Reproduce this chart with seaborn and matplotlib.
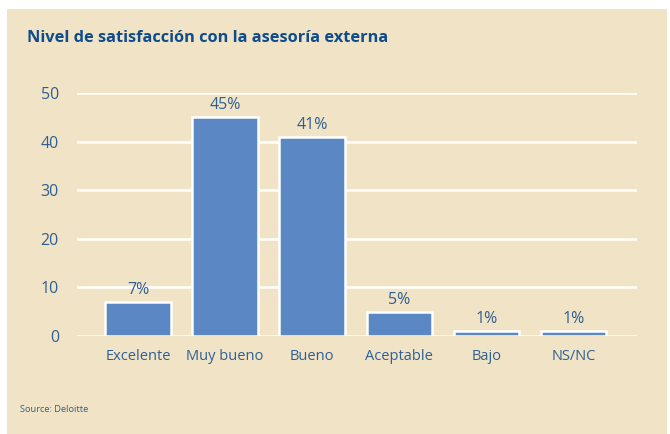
import matplotlib
matplotlib.use("Agg")
import matplotlib.pyplot as plt
from matplotlib.patches import Rectangle
import pandas as pd
import seaborn as sns

categories = ["Excelente", "Muy bueno", "Bueno", "Aceptable", "Bajo", "NS/NC"]
values = [7, 45, 41, 5, 1, 1]
yticks = [0, 10, 20, 30, 40, 50]

panel = "#F0E3C6"
bar_color = "#5B87C5"
text_blue = "#2F5F93"
title_blue = "#0E4C8C"

sns.set_theme(style="white")
plt.rcParams["font.family"] = ["Open Sans", "DejaVu Sans"]

fig = plt.figure(figsize=(6.7, 4.34), dpi=100, facecolor="white")
# beige background panel behind everything
fig.patches.append(Rectangle((7 / 670, 0), 660 / 670, 1 - 9 / 434, transform=fig.transFigure,
                             facecolor=panel, edgecolor="none", zorder=-10))

ax = fig.add_axes([77 / 670, 98 / 434, 560 / 670, 243 / 434])
ax.set_facecolor("none")
ax.set_zorder(2)

df = pd.DataFrame({"cat": categories, "val": values})
sns.barplot(data=df, x="cat", y="val", color=bar_color, saturation=1, width=0.75,
            edgecolor="white", linewidth=1.8, ax=ax, zorder=3)

ax.set_ylim(0, 50)
ax.set_xlim(-0.7, 5.73)
ax.set_yticks(yticks)
ax.yaxis.grid(True, color="white", linewidth=1.8, zorder=1)
ax.set_axisbelow(True)
for s in ax.spines.values():
    s.set_visible(False)
ax.tick_params(axis="both", length=0, colors=text_blue)
ax.tick_params(axis="x", pad=9, labelsize=10.5)
ax.tick_params(axis="y", pad=13, labelsize=11.5)
ax.set_xlabel("")
ax.set_ylabel("")

for i, v in enumerate(values):
    ax.annotate(f"{v}%", (i, v), xytext=(0, 3), textcoords="offset points",
                ha="center", va="bottom", color=text_blue, fontsize=11.5)

fig.text(27 / 670, 1 - 38 / 434, "Nivel de satisfacción con la asesoría externa",
         ha="left", va="center", color=title_blue, fontsize=11.8, fontweight="bold")
fig.text(20 / 670, 1 - 410 / 434, "Source: Deloitte", ha="left", va="center",
         color=text_blue, fontsize=6.7)

fig.savefig("out.png", dpi=100, facecolor="white")
